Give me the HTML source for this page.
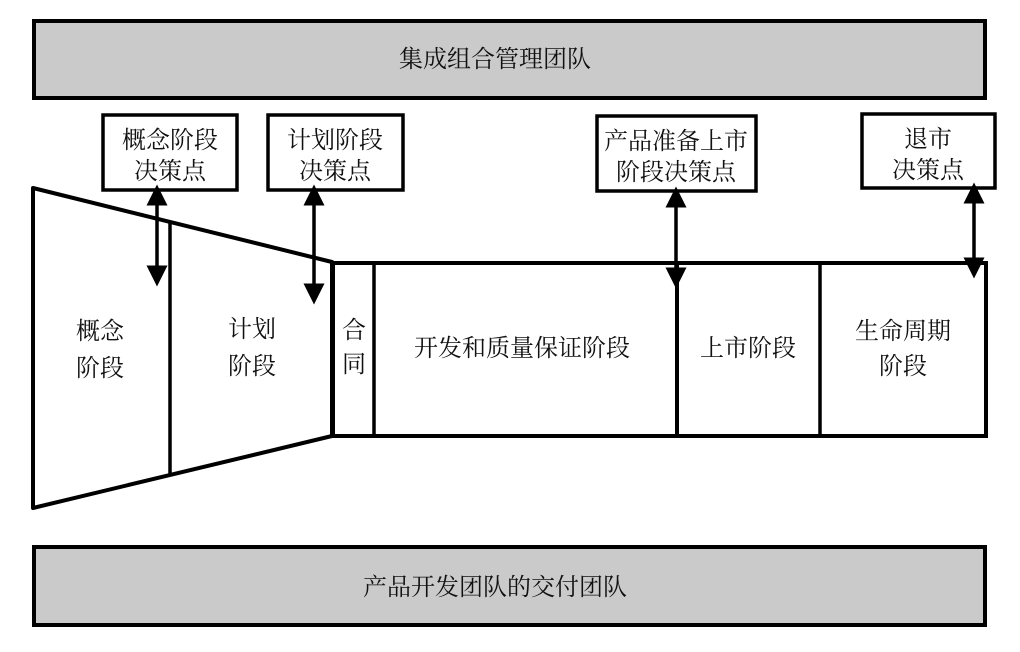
<!DOCTYPE html>
<html><head><meta charset="utf-8"><style>
html,body{margin:0;padding:0;background:#fff;}
svg{display:block;}
text{font-family:"Liberation Serif","Noto Serif CJK SC","Noto Sans CJK SC",serif;font-size:24px;fill:#111;text-anchor:middle;}
</style></head><body>
<svg width="1020" height="652" viewBox="0 0 1020 652" xmlns="http://www.w3.org/2000/svg">
<defs>
<marker id="ah" markerWidth="6" markerHeight="6" refX="3" refY="3" orient="auto-start-reverse" markerUnits="strokeWidth">
<path d="M0,0 L6,3 L0,6 Z" fill="#000"/>
</marker>
</defs>
<rect x="34" y="21" width="951" height="77" fill="#cacaca" stroke="#000" stroke-width="4"/>
<text x="495" y="67">集成组合管理团队</text>
<rect x="34" y="547" width="951" height="78" fill="#cacaca" stroke="#000" stroke-width="4"/>
<text x="495" y="595">产品开发团队的交付团队</text>
<rect x="103" y="115" width="134" height="75" fill="#fff" stroke="#000" stroke-width="3.5"/>
<text x="170" y="148">概念阶段</text><text x="170" y="179">决策点</text>
<rect x="268" y="115" width="135" height="75" fill="#fff" stroke="#000" stroke-width="3.5"/>
<text x="335" y="148">计划阶段</text><text x="335" y="179">决策点</text>
<rect x="597" y="116" width="159" height="75" fill="#fff" stroke="#000" stroke-width="3.5"/>
<text x="676" y="149">产品准备上市</text><text x="676" y="180">阶段决策点</text>
<rect x="862" y="114" width="133" height="74" fill="#fff" stroke="#000" stroke-width="3.5"/>
<text x="928" y="147">退市</text><text x="928" y="178">决策点</text>
<polygon points="33,188 332,262 332,436 33,508" fill="#fff" stroke="#000" stroke-width="4" stroke-linejoin="round"/>
<line x1="170" y1="222" x2="170" y2="474" stroke="#000" stroke-width="3.5"/>
<rect x="333" y="263" width="653" height="173" fill="#fff" stroke="#000" stroke-width="4"/>
<line x1="374" y1="263" x2="374" y2="436" stroke="#000" stroke-width="3.5"/>
<line x1="677" y1="263" x2="677" y2="436" stroke="#000" stroke-width="4"/>
<line x1="820" y1="263" x2="820" y2="436" stroke="#000" stroke-width="3.5"/>
<text x="100" y="339">概念</text><text x="100" y="376">阶段</text>
<text x="252" y="337">计划</text><text x="252" y="374">阶段</text>
<text x="354" y="338">合</text><text x="354" y="372">同</text>
<text x="522" y="356">开发和质量保证阶段</text>
<text x="748" y="356">上市阶段</text>
<text x="903" y="339">生命周期</text><text x="903" y="374">阶段</text>
<g stroke="#000" stroke-width="3.5" fill="none">
<line x1="157" y1="195" x2="157" y2="276" marker-start="url(#ah)" marker-end="url(#ah)"/>
<line x1="314" y1="195" x2="314" y2="294" marker-start="url(#ah)" marker-end="url(#ah)"/>
<line x1="676" y1="197" x2="676" y2="278" marker-start="url(#ah)" marker-end="url(#ah)"/>
<line x1="974" y1="193" x2="974" y2="268" marker-start="url(#ah)" marker-end="url(#ah)"/>
</g>
</svg>
</body></html>
